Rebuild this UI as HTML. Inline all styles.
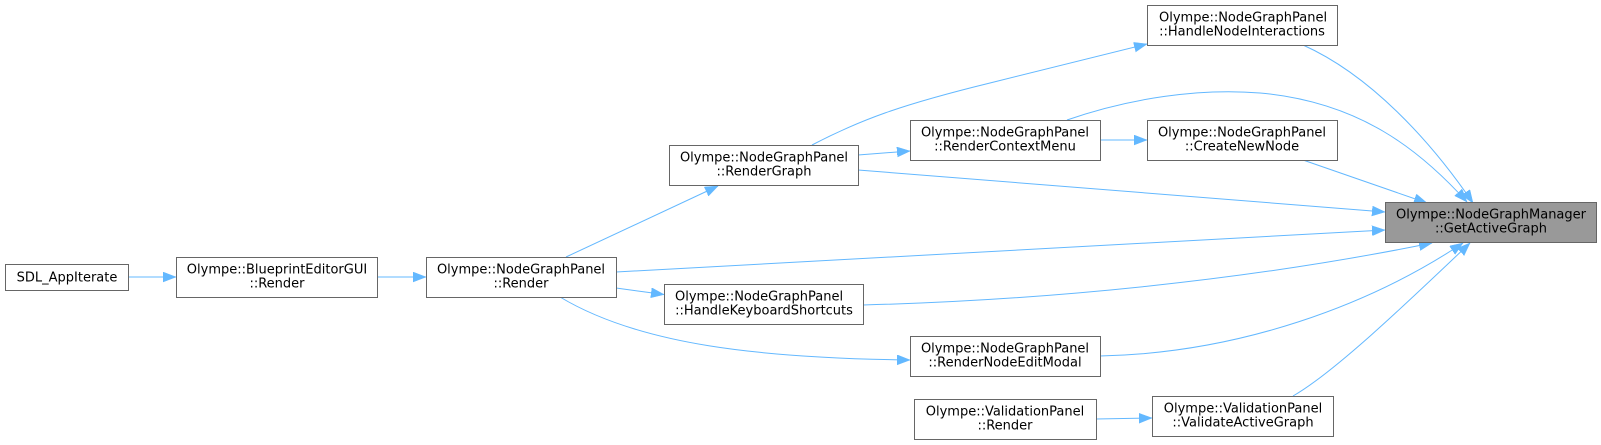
<!DOCTYPE html>
<html>
<head>
<meta charset="utf-8">
<style>
html,body{margin:0;padding:0;background:#fff;}
svg{display:block;}
text{font-family:"DejaVu Sans","Liberation Sans",sans-serif;font-size:13px;fill:#000;}
.n{fill:#fff;stroke:#666;stroke-width:1;}
.g{fill:#999;stroke:#666;stroke-width:1;}
.e{fill:none;stroke:#63b8ff;stroke-width:1;marker-end:url(#a);}
</style>
</head>
<body>
<svg width="1601" height="445" viewBox="0 0 1601 445" xmlns="http://www.w3.org/2000/svg">
<defs>
<marker id="a" markerWidth="14" markerHeight="11" refX="13" refY="5" orient="auto" markerUnits="userSpaceOnUse">
<path d="M0,0 L13,5 L0,10 z" fill="#63b8ff" stroke="#63b8ff" stroke-width="0.5"/>
</marker>
</defs>

<!-- edges -->
<path class="e" d="M128,277 L176,277"/>
<path class="e" d="M377,277 L426,277"/>
<path class="e" d="M566,257 L718,186"/>
<path class="e" d="M616,288 L664,294.5"/>
<path class="e" d="M560,297 C640,345 760,358 910,360"/>
<path class="e" d="M858,155 L910,151"/>
<path class="e" d="M812,145 C860,120 900,105 990,83 L1147,44"/>
<path class="e" d="M1100,140 L1147,140"/>
<path class="e" d="M1067,120 C1130,98 1200,88 1260,93 C1360,102 1420,150 1467,202"/>
<path class="e" d="M1303,45 C1370,75 1430,140 1473,203"/>
<path class="e" d="M1303,160 L1427,203"/>
<path class="e" d="M858,170 L1385,212"/>
<path class="e" d="M616,272 L1385,230"/>
<path class="e" d="M863,305 C1050,300 1250,280 1432,243"/>
<path class="e" d="M1100,356 C1240,353 1370,305 1463,243"/>
<path class="e" d="M1096,419 L1152,418"/>
<path class="e" d="M1293,396 C1335,372 1410,300 1470,243"/>

<!-- nodes -->
<rect class="n" x="5.5" y="264.5" width="123" height="26"/>
<text x="67" y="281.5" text-anchor="middle">SDL_AppIterate</text>

<rect class="n" x="176.5" y="257.5" width="201" height="40"/>
<text x="277" y="273.5" text-anchor="middle">Olympe::BlueprintEditorGUI</text>
<text x="277" y="287.5" text-anchor="middle">::Render</text>

<rect class="n" x="426.5" y="257.5" width="190" height="40"/>
<text x="521" y="273.5" text-anchor="middle">Olympe::NodeGraphPanel</text>
<text x="521" y="287.5" text-anchor="middle">::Render</text>

<rect class="n" x="669.5" y="145.5" width="189" height="40"/>
<text x="764" y="161.5" text-anchor="middle">Olympe::NodeGraphPanel</text>
<text x="764" y="175.5" text-anchor="middle">::RenderGraph</text>

<rect class="n" x="664.5" y="284.5" width="199" height="40"/>
<text x="675" y="300.5">Olympe::NodeGraphPanel</text>
<text x="764" y="314.5" text-anchor="middle">::HandleKeyboardShortcuts</text>

<rect class="n" x="910.5" y="120.5" width="190" height="40"/>
<text x="1005" y="136.5" text-anchor="middle">Olympe::NodeGraphPanel</text>
<text x="1005" y="150.5" text-anchor="middle">::RenderContextMenu</text>

<rect class="n" x="910.5" y="336.5" width="190" height="40"/>
<text x="1005" y="352.5" text-anchor="middle">Olympe::NodeGraphPanel</text>
<text x="1005" y="366.5" text-anchor="middle">::RenderNodeEditModal</text>

<rect class="n" x="914.5" y="399.5" width="182" height="40"/>
<text x="1005" y="415.5" text-anchor="middle">Olympe::ValidationPanel</text>
<text x="1005" y="429.5" text-anchor="middle">::Render</text>

<rect class="n" x="1147.5" y="5.5" width="190" height="40"/>
<text x="1159" y="21.5">Olympe::NodeGraphPanel</text>
<text x="1242" y="35.5" text-anchor="middle">::HandleNodeInteractions</text>

<rect class="n" x="1147.5" y="120.5" width="190" height="40"/>
<text x="1242" y="136.5" text-anchor="middle">Olympe::NodeGraphPanel</text>
<text x="1242" y="150.5" text-anchor="middle">::CreateNewNode</text>

<rect class="n" x="1152.5" y="396.5" width="181" height="40"/>
<text x="1243" y="412.5" text-anchor="middle">Olympe::ValidationPanel</text>
<text x="1243" y="426.5" text-anchor="middle">::ValidateActiveGraph</text>

<rect class="g" x="1385.5" y="202.5" width="211" height="40"/>
<text x="1491" y="218.5" text-anchor="middle">Olympe::NodeGraphManager</text>
<text x="1491" y="232.5" text-anchor="middle">::GetActiveGraph</text>
</svg>
</body>
</html>
